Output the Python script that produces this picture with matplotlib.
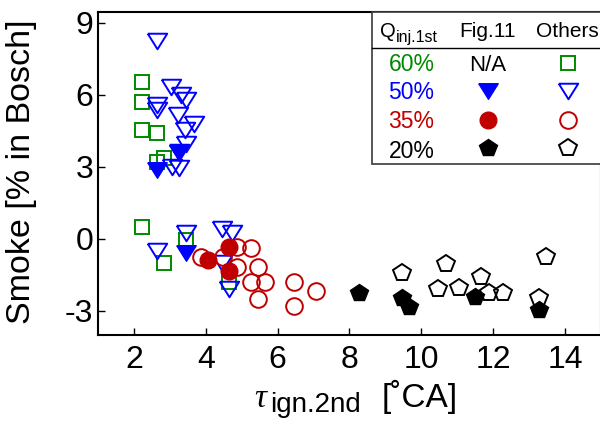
import matplotlib
matplotlib.use("Agg")
import matplotlib.pyplot as plt
from matplotlib.lines import Line2D
from matplotlib.patches import Rectangle

plt.rcParams['font.family'] = ['Liberation Sans', 'DejaVu Sans']
plt.rcParams['axes.unicode_minus'] = False

# tau_ign.2nd [deg CA] vs smoke [% Bosch], grouped by first-injection quantity
q60_x = [2.23, 2.23, 2.23, 2.63, 2.63, 2.84, 2.23, 2.84, 3.44, 4.65]
q60_y = [6.55, 5.72, 4.54, 4.43, 3.22, 3.36, 0.49, -0.99, -0.04, -1.78]

q50_x = [2.65, 3.02, 3.30, 3.44, 2.65, 2.65, 3.24, 3.66, 3.42, 3.44, 3.26, 3.07, 3.26,
         2.65, 3.44, 4.45, 4.73, 4.45, 4.65]
q50_y = [8.26, 6.32, 6.00, 5.79, 5.58, 5.38, 5.17, 4.79, 4.54, 3.96, 3.64, 3.01, 2.95,
         -0.49, 0.24, 0.40, 0.24, -1.01, -2.10]
q50_fig_x = [2.65, 3.26, 3.44]
q50_fig_y = [2.88, 3.57, -0.57]

q35_x = [3.86, 4.49, 4.86, 5.26, 4.86, 5.44, 5.26, 5.65, 5.44, 6.45, 6.45, 7.06]
q35_y = [-0.76, -0.74, -0.32, -0.39, -1.15, -1.15, -1.78, -1.78, -2.50, -1.78, -2.79, -2.17]
q35_fig_x = [4.05, 4.65, 4.65]
q35_fig_y = [-0.87, -0.32, -1.32]

q20_x = [9.47, 10.68, 10.47, 11.06, 11.66, 11.87, 12.27, 13.47, 13.27]
q20_y = [-1.43, -1.04, -2.10, -2.05, -1.60, -2.24, -2.24, -0.74, -2.47]
q20_fig_x = [8.27, 9.47, 9.66, 11.48, 13.27]
q20_fig_y = [-2.26, -2.47, -2.82, -2.40, -2.96]

xticks = [2, 4, 6, 8, 10, 12, 14]
yticks = [-3, 0, 3, 6, 9]
legend_rows = ['60%', '50%', '35%', '20%']

GREEN = '#008a00'
BLUE = '#0000ff'
RED = '#c00000'
BLACK = '#000000'

# flattened downward triangle (wider than tall)
TRI = [(-1.0, 0.8), (1.0, 0.8), (0.0, -0.8), (-1.0, 0.8)]

W, H = 600, 430


def fx(px):
    return px / W


def fy(py):
    return 1 - py / H


fig = plt.figure(figsize=(6.0, 4.3), dpi=100)
ax = fig.add_axes([fx(98), fy(335), (601 - 98) / W, (335 - 11.7) / H])

ax.plot(q60_x, q60_y, ls='none', marker='s', ms=9.8, mfc='none', mec=GREEN, mew=1.4)
ax.plot(q50_x, q50_y, ls='none', marker=TRI, ms=14, mfc='none', mec=BLUE, mew=1.4)
ax.plot(q50_fig_x, q50_fig_y, ls='none', marker=TRI, ms=14, mfc=BLUE, mec=BLUE, mew=1.0)
ax.plot(q35_x, q35_y, ls='none', marker='o', ms=12, mfc='none', mec=RED, mew=1.4)
ax.plot(q35_fig_x, q35_fig_y, ls='none', marker='o', ms=12, mfc=RED, mec=RED, mew=1.0)
ax.plot(q20_x, q20_y, ls='none', marker='p', ms=13, mfc='none', mec=BLACK, mew=1.4)
ax.plot(q20_fig_x, q20_fig_y, ls='none', marker='p', ms=13, mfc=BLACK, mec=BLACK, mew=1.0)

ax.set_xlim(1, 15)
ax.set_ylim(-4, 9.47)
ax.set_xticks(xticks)
ax.set_yticks(yticks)
ax.tick_params(direction='in', length=5, width=1.0, labelsize=23)
ax.tick_params(axis='x', pad=7)
ax.tick_params(axis='y', pad=3.5)
for s in ax.spines.values():
    s.set_linewidth(1.5)

# axis titles
fig.text(fx(22), fy(171.5), 'Smoke [% in Bosch]', rotation=90, ha='center',
         va='center', fontsize=24.5)
fig.text(fx(254), fy(407), '\u03c4', family='Liberation Serif', style='italic',
         fontsize=24, ha='left', va='baseline')
fig.text(fx(270), fy(412), 'ign.2nd', fontsize=20, ha='left', va='baseline')
fig.text(fx(382), fy(407), '[\u02daCA]', fontsize=24, ha='left', va='baseline')

# table-style legend in the upper right
ax.add_patch(Rectangle((fx(371.7), fy(164.3)), fx(610) - fx(371.7), fy(11.7) - fy(164.3),
                       transform=fig.transFigure, facecolor='white', edgecolor='#3a3a3a',
                       lw=1.2, zorder=5, clip_on=False))
ax.add_line(Line2D([fx(371.7), fx(605)], [fy(48.3), fy(48.3)], transform=fig.transFigure,
                   color=BLACK, lw=1.0, zorder=6, clip_on=False))

fig.text(fx(380), fy(36.7), 'Q', fontsize=14.5, ha='left', va='baseline', zorder=7)
fig.text(fx(396), fy(42.3), 'inj.1st', fontsize=11.5, ha='left', va='baseline', zorder=7)
fig.text(fx(487.5), fy(36.7), 'Fig.11', fontsize=15, ha='center', va='baseline', zorder=7)
fig.text(fx(567.5), fy(36.7), 'Others', fontsize=15, ha='center', va='baseline', zorder=7)

row_base = [71.0, 99.3, 128.3, 157.7]
row_mid = [63.3, 90.5, 120.0, 148.3]
row_cols = [GREEN, BLUE, RED, BLACK]
row_mk = ['s', TRI, 'o', 'p']
row_ms = [9.8, 14, 12, 13]
for i, lab in enumerate(legend_rows):
    fig.text(fx(411.5), fy(row_base[i]), lab, fontsize=16.5, color=row_cols[i],
             ha='center', va='baseline', zorder=7)
    if i == 0:
        fig.text(fx(488), fy(row_base[i]), 'N/A', fontsize=16, ha='center',
                 va='baseline', zorder=7)
    else:
        ax.add_line(Line2D([fx(487.7)], [fy(row_mid[i])], transform=fig.transFigure,
                           ls='none', marker=row_mk[i], ms=row_ms[i], mfc=row_cols[i],
                           mec=row_cols[i], mew=1.0, zorder=7, clip_on=False))
    ax.add_line(Line2D([fx(567.5)], [fy(row_mid[i])], transform=fig.transFigure,
                       ls='none', marker=row_mk[i], ms=row_ms[i], mfc='none',
                       mec=row_cols[i], mew=1.4, zorder=7, clip_on=False))

fig.savefig('out.png', dpi=100)
